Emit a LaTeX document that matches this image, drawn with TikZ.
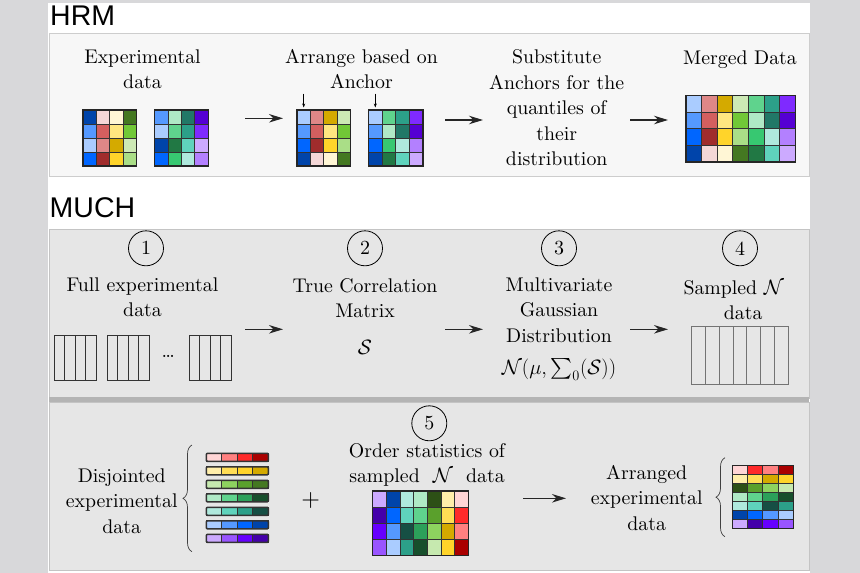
\documentclass[tikz,border=0pt]{standalone}
\usepackage{amsmath}
\usepackage{fontspec}
\setmainfont{lmroman10-regular.otf}[BoldFont=lmroman10-bold.otf, ItalicFont=lmroman10-italic.otf]
\newfontfamily\titlefont{Liberation Sans}
\usetikzlibrary{arrows.meta,decorations.pathreplacing}
% HRM palette
\definecolor{bA}{HTML}{0044AA}\definecolor{bB}{HTML}{5599FF}\definecolor{bC}{HTML}{AACCFF}\definecolor{bD}{HTML}{0066FF}
\definecolor{rPink}{HTML}{F4D7D7}\definecolor{rRose}{HTML}{DE8787}\definecolor{rMid}{HTML}{D35F5F}\definecolor{rDark}{HTML}{A02C2C}
\definecolor{yCream}{HTML}{FFF6D5}\definecolor{yLight}{HTML}{FFE680}\definecolor{yDark}{HTML}{D4AA00}\definecolor{yGold}{HTML}{FFD42A}
\definecolor{gDark}{HTML}{447821}\definecolor{gMid}{HTML}{71C837}\definecolor{gLight}{HTML}{CDE9B5}\definecolor{gLightB}{HTML}{AADE87}
\definecolor{mLight}{HTML}{AFE9C6}\definecolor{mMid}{HTML}{5FD38D}\definecolor{mBright}{HTML}{37C871}\definecolor{mDark}{HTML}{217844}
\definecolor{tDark}{HTML}{217867}\definecolor{tMid}{HTML}{2CA089}\definecolor{tLight}{HTML}{5FD3BC}\definecolor{tPale}{HTML}{AFE9DD}
\definecolor{pDark}{HTML}{5500D4}\definecolor{pMid}{HTML}{7F2AFF}\definecolor{pLight}{HTML}{CCAAFF}\definecolor{pLav}{HTML}{B380FF}
% MUCH palette
\definecolor{R1}{HTML}{FFD5D5}\definecolor{R2}{HTML}{FF8080}\definecolor{R3}{HTML}{FF2A2A}\definecolor{R4}{HTML}{AA0000}
\definecolor{Y1}{HTML}{FFEEAA}\definecolor{Y2}{HTML}{FFDD55}\definecolor{Y3}{HTML}{FFD42A}\definecolor{Y4}{HTML}{D4AA00}
\definecolor{G1}{HTML}{C6E9AF}\definecolor{G2}{HTML}{8DD35F}\definecolor{G3}{HTML}{5AA02C}\definecolor{G4}{HTML}{447821}\definecolor{G5}{HTML}{2D5016}
\definecolor{M1}{HTML}{AFE9C6}\definecolor{M2}{HTML}{5FD38D}\definecolor{M3}{HTML}{2CA05A}\definecolor{M4}{HTML}{174F2C}
\definecolor{T1}{HTML}{AFE9DD}\definecolor{T2}{HTML}{5FD3BC}\definecolor{T3}{HTML}{2CA089}\definecolor{T4}{HTML}{164F44}
\definecolor{B1}{HTML}{AACCFF}\definecolor{B2}{HTML}{5599FF}\definecolor{B3}{HTML}{0066FF}\definecolor{B4}{HTML}{0044AA}
\definecolor{P1}{HTML}{CCAAFF}\definecolor{P2}{HTML}{9955FF}\definecolor{P3}{HTML}{6600FF}\definecolor{P4}{HTML}{4400AA}
% frame colours
\definecolor{bggray}{HTML}{D8D8DA}
\definecolor{hrmfill}{HTML}{F7F7F7}\definecolor{hrmline}{HTML}{CDCDCD}
\definecolor{muchfill}{HTML}{E6E6E6}\definecolor{muchline}{HTML}{C4C4C4}\definecolor{sepgray}{HTML}{B4B4B4}

\tikzset{
  lbl/.style={font=\fontsize{19.8}{25.5}\selectfont, align=center, inner sep=0pt},
  ttl/.style={font=\titlefont\fontsize{28.5}{30}\selectfont, anchor=base west, inner sep=0pt},
  arr/.style={line width=1.3pt, draw=black!85, -{Stealth[length=14pt,width=8.5pt,inset=4.5pt]}},
  sarr/.style={line width=0.6pt, -{Stealth[length=4pt,width=3pt]}},
  num/.style={circle, draw, line width=0.8pt, minimum size=35pt, inner sep=0pt, font=\fontsize{20}{24}\selectfont},
  cellline/.style={draw=black!80, line width=0.7pt},
  gridouter/.style={draw=black!85, line width=1.2pt},
  barouter/.style={draw=black!80, line width=1.5pt, rounded corners=1pt},
  brc/.style={decorate, decoration={brace, amplitude=9pt}, line width=0.7pt, draw=black!75},
  panelhrm/.style={fill=hrmfill, draw=hrmline, line width=0.8pt},
  panelmuch/.style={fill=muchfill, draw=muchline, line width=0.8pt},
}
% coloured grid: x, y, cell w, cell h, ncols, nrows, rows
\newcommand{\cgrid}[7]{%
  \foreach \rw [count=\r from 0] in {#7} {
    \foreach \cc [count=\k from 0] in \rw {
      \fill[fill=\cc] ({#1+\k*#3}, {#2+\r*#4}) rectangle ++(#3,#4);
      \draw[cellline] ({#1+\k*#3}, {#2+\r*#4}) rectangle ++(#3,#4);
    }
  }
  \draw[gridouter] (#1,#2) rectangle ++({#5*#3},{#6*#4});
}
% one bar of four cells: y, colours
\newcommand{\cbar}[2]{%
  \foreach \cc [count=\k from 0] in {#2} {
    \fill[fill=\cc] ({206.3+\k*15.5}, #1) rectangle ++(15.5,8);
    \draw[cellline] ({206.3+\k*15.5}, #1) rectangle ++(15.5,8);
  }
  \draw[barouter] (206.3,#1) rectangle ++(62,8);
}
% empty table: x, y, w, h, ncols-1, colour
\newcommand{\emptytab}[6]{%
  \draw[#6, line width=0.9pt] (#1,#2) rectangle ++(#3,#4);
  \foreach \i in {1,...,#5} \draw[#6, line width=0.9pt] ({#1+\i*#3/(#5+1)}, #2) -- ++(0,#4);
}

\begin{document}
\begin{tikzpicture}[x=1pt,y=-1pt]
\useasboundingbox (0,0) rectangle (860,573);
\fill[bggray] (0,0) rectangle (860,573);
\fill[white] (48,3) rectangle (810,573);

% ---------------- HRM ----------------
\draw[panelhrm] (49,33) rectangle (809,176);
\node[ttl] (hrm) at (50,25) {HRM};

\node[lbl] (exp) at (142.5,69) {Experimental\\data};
\node[lbl] (arrange) at (361.5,69) {Arrange based on\\Anchor};
\node[lbl] (subst) at (556.7,108) {Substitute\\Anchors for the\\quantiles of\\their\\distribution};
\node[lbl] (merged) at (740,60) {Merged Data};

\cgrid{83}{110}{13.4}{14}{4}{4}{{bA,rPink,yCream,gDark},{bB,rMid,yLight,gMid},{bC,rRose,yDark,gLight},{bD,rDark,yGold,gLightB}}
\cgrid{154.5}{110}{13.4}{14}{4}{4}{{bB,mLight,tDark,pDark},{bC,mMid,tMid,pMid},{bA,mDark,tLight,pLight},{bD,mBright,tPale,pLav}}
\cgrid{297}{110}{13.4}{14}{4}{4}{{bC,rRose,yDark,gLight},{bB,rMid,yLight,gMid},{bD,rDark,yGold,gLightB},{bA,rPink,yCream,gDark}}
\cgrid{368.5}{110}{13.6}{14}{4}{4}{{bC,mMid,tMid,pMid},{bB,mLight,tDark,pDark},{bD,mBright,tPale,pLav},{bA,mDark,tLight,pLight}}
\cgrid{686}{95.5}{15.6}{16.6}{7}{4}{{bC,rRose,yDark,gLight,mMid,tMid,pMid},{bB,rMid,yLight,gMid,mLight,tDark,pDark},{bD,rDark,yGold,gLightB,mBright,tPale,pLav},{bA,rPink,yCream,gDark,mDark,tLight,pLight}}

\coordinate (anc1s) at (303.7,93.5); \coordinate (anc1e) at (303.7,107.5);
\coordinate (anc2s) at (375.3,93.5); \coordinate (anc2e) at (375.3,107.5);
\draw[sarr] (anc1s) -- (anc1e);
\draw[sarr] (anc2s) -- (anc2e);

\coordinate (h1s) at (245,118.3); \coordinate (h1e) at (283,118.3);
\coordinate (h2s) at (445,120); \coordinate (h2e) at (483,120);
\coordinate (h3s) at (630,120); \coordinate (h3e) at (668,120);
\draw[arr] (h1s) -- (h1e);
\draw[arr] (h2s) -- (h2e);
\draw[arr] (h3s) -- (h3e);

% ---------------- MUCH ----------------
\node[ttl] (much) at (49.5,217) {MUCH};
\draw[panelmuch] (49,229) rectangle (809,398);
\fill[sepgray] (49,397) rectangle (809,402.5);
\draw[panelmuch] (49,402.5) rectangle (809,570);

\node[num] (n1) at (146,248.3) {1};
\node[num] (n2) at (365,248.3) {2};
\node[num] (n3) at (559,248.3) {3};
\node[num] (n4) at (740,248.3) {4};

\node[lbl] (full) at (142.5,297) {Full experimental\\data};
\node[lbl] (tcm) at (365,298) {True Correlation\\Matrix};
\node[lbl] (smat) at (365,347) {$\mathcal{S}$};
\node[lbl] (mvg) at (559,310) {Multivariate\\Gaussian\\Distribution};
\node[lbl] (mvgN) at (559,369) {$\mathcal{N}(\mu, \smash{\sum_0}(\mathcal{S}))$};
\node[lbl] (sampled) at (733.7,300) {Sampled $\mathcal{N}$\\\hspace*{19pt}data};

\emptytab{54}{335}{42}{45}{3}{black!80}
\emptytab{107.3}{335}{42}{45}{3}{black!80}
\emptytab{189}{335}{42}{45}{3}{black!80}
\node[lbl] (dots) at (168.3,356) {\dots};
\emptytab{691.7}{326}{96.6}{58}{6}{black!55}

\coordinate (m1s) at (245,329.3); \coordinate (m1e) at (283,329.3);
\coordinate (m2s) at (445,329.3); \coordinate (m2e) at (483,329.3);
\coordinate (m3s) at (630,329.3); \coordinate (m3e) at (668,329.3);
\draw[arr] (m1s) -- (m1e);
\draw[arr] (m2s) -- (m2e);
\draw[arr] (m3s) -- (m3e);

% ---------------- step 5 ----------------
\node[num] (n5) at (429.3,423.3) {5};
\node[lbl] (disj) at (121.7,501) {Disjointed\\experimental\\data};
\coordinate (b1s) at (192,551.7); \coordinate (b1e) at (192,445);
\draw[brc] (b1s) -- (b1e);

\cbar{453.3}{R1,R2,R3,R4}
\cbar{466.8}{Y1,Y2,Y3,Y4}
\cbar{480.3}{G1,G2,G3,G4}
\cbar{493.8}{M1,M2,M3,M4}
\cbar{507.3}{T1,T2,T3,T4}
\cbar{520.8}{B1,B2,B3,B4}
\cbar{534.3}{P1,P2,P3,P4}

\node[lbl, font=\fontsize{24}{24}\selectfont] (plus) at (310.7,500) {+};
\node[lbl] (order) at (427,465) {Order statistics of\\sampled~ $\mathcal{N}$ ~data};
\cgrid{372.5}{491}{13.7}{16.2}{7}{4}{{P1,B4,T1,M1,G5,Y1,R1},{P4,B3,T2,M2,G3,Y2,R3},{P3,B2,T4,M3,G2,Y4,R2},{P2,B1,T3,M4,G1,Y3,R4}}

\coordinate (a5s) at (523.3,498.3); \coordinate (a5e) at (566,498.3);
\draw[arr] (a5s) -- (a5e);

\node[lbl] (arranged) at (646.7,498) {Arranged\\experimental\\data};
\coordinate (b2s) at (725,536.7); \coordinate (b2e) at (725,457.7);
\draw[brc] (b2s) -- (b2e);
\cgrid{732.3}{465.7}{15.25}{9}{4}{7}{{R1,R3,R2,R4},{Y1,Y2,Y4,Y3},{G5,G3,G2,G1},{M1,M2,M3,M4},{T1,T2,T4,T3},{B4,B3,B2,B1},{P1,P4,P3,P2}}
\end{tikzpicture}
\end{document}
